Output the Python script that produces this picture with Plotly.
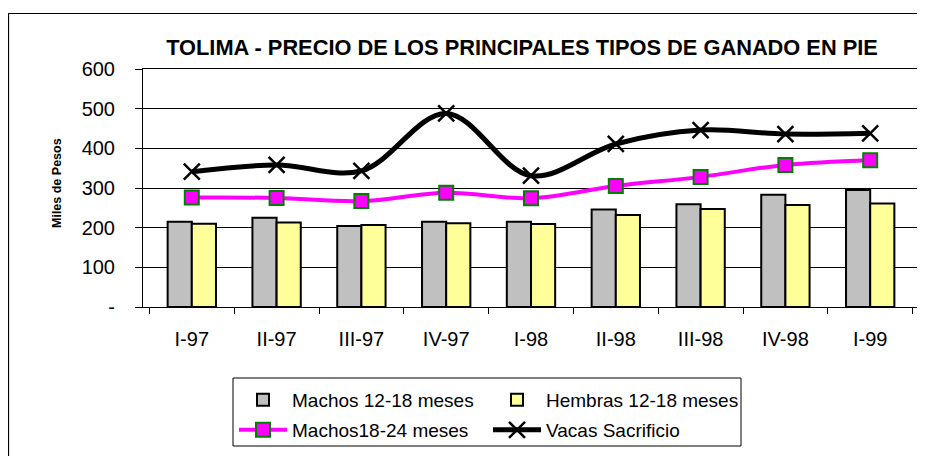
import plotly.graph_objects as go

categories = ["I-97", "II-97", "III-97", "IV-97", "I-98", "II-98", "III-98", "IV-98", "I-99"]
machos_12_18 = [215, 225, 204, 215, 215, 246, 259, 283, 295]
hembras_12_18 = [210, 213, 207, 211, 209, 232, 247, 257, 261]
machos_18_24 = [276, 275, 267, 288, 274, 305, 328, 358, 370]
vacas_sacrificio = [341, 358, 343, 488, 331, 411, 446, 436, 438]
y_tickvals = [0, 100, 200, 300, 400, 500, 600]
y_ticktext = ["-", "100", "200", "300", "400", "500", "600"]

FONT = "Liberation Sans, Arial, sans-serif"

# the page body adds an 8px offset; work in screen pixels and subtract it
OFF = 8
FW, FH = 925 - OFF, 456 - OFF
L, R, T, B = 143 - OFF, 919 - OFF, 69 - OFF, 307 - OFF
W, H = R - L, B - T


def px_x(x):
    return (x - OFF - L) / W


def px_y(y):
    return (B - (y - OFF)) / H


fig = go.Figure()
fig.add_trace(go.Bar(x=categories, y=machos_12_18, name="Machos 12-18 meses", legend="legend",
                     marker=dict(color="#C0C0C0", line=dict(color="black", width=2))))
fig.add_trace(go.Bar(x=categories, y=hembras_12_18, name="Hembras 12-18 meses", legend="legend",
                     marker=dict(color="#FFFF99", line=dict(color="black", width=2))))
fig.add_trace(go.Scatter(x=categories, y=machos_18_24, name="Machos18-24 meses", legend="legend2",
                         mode="lines+markers", line=dict(color="#FF00FF", width=4, shape="spline"),
                         marker=dict(symbol="square", size=14, color="#FF00FF",
                                     line=dict(color="#008000", width=2))))
fig.add_trace(go.Scatter(x=categories, y=vacas_sacrificio, name="Vacas Sacrificio", legend="legend2",
                         mode="lines+markers", line=dict(color="black", width=5, shape="spline"),
                         marker=dict(symbol="x-thin", size=16, color="black",
                                     line=dict(color="black", width=2.5))))

legend_common = dict(orientation="h", xanchor="left", yanchor="top",
                     borderwidth=0, bgcolor="rgba(0,0,0,0)",
                     font=dict(family=FONT, size=19, color="black"),
                     itemwidth=48, entrywidth=191, traceorder="normal")

fig.update_layout(
    width=FW, height=FH,
    margin=dict(l=L, r=FW - R, t=T, b=FH - B, autoexpand=False),
    paper_bgcolor="white", plot_bgcolor="white",
    font=dict(family=FONT, color="black", size=19),
    barmode="group", bargap=0.43, bargroupgap=0,
    showlegend=True,
    title=dict(text="<b>TOLIMA - PRECIO DE LOS PRINCIPALES TIPOS DE GANADO EN PIE</b>",
               font=dict(family=FONT, size=21.8, color="black"),
               x=(522 - OFF) / FW, xanchor="center", y=1 - (47 - OFF) / FH, yanchor="middle"),
    legend=dict(x=px_x(234), y=px_y(381), **legend_common),
    legend2=dict(x=px_x(234), y=px_y(411), **legend_common),
    xaxis=dict(showline=True, linecolor="black", linewidth=1, mirror=True,
               ticks="outside", tickson="boundaries", ticklen=6, tickcolor="black",
               showgrid=False, tickfont=dict(size=20), ticklabelstandoff=14),
    yaxis=dict(range=[0, 600], tickvals=y_tickvals, ticktext=y_ticktext,
               showline=True, linecolor="black", linewidth=1, mirror=True,
               ticks="outside", ticklen=7, tickcolor="black",
               showgrid=True, gridcolor="black", gridwidth=1,
               tickfont=dict(size=20), ticklabelstandoff=16, zeroline=False),
    annotations=[dict(text="<b>Miles de Pesos</b>", textangle=-90, showarrow=False,
                      xref="paper", yref="paper", x=px_x(57), y=px_y(183),
                      xanchor="center", yanchor="middle",
                      font=dict(family=FONT, size=12.5, color="black"))],
    shapes=[
        dict(type="rect", xref="paper", yref="paper",
             x0=px_x(8.5), x1=px_x(960), y0=px_y(480), y1=px_y(13.5),
             line=dict(color="black", width=1.2), fillcolor="rgba(0,0,0,0)", layer="below"),
        dict(type="rect", xref="paper", yref="paper",
             x0=px_x(233), x1=px_x(741), y0=px_y(446), y1=px_y(378),
             line=dict(color="black", width=1), fillcolor="white", layer="below"),
    ],
)

fig.write_html("out.html")
